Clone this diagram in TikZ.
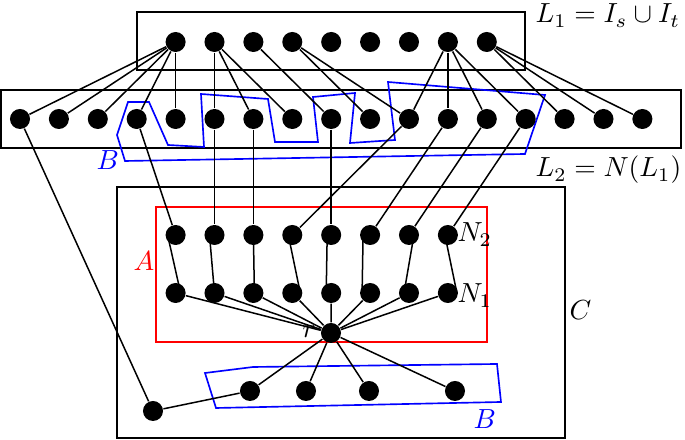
\documentclass[tikz,border=0pt]{standalone}
\usetikzlibrary{calc}
\begin{document}
\begin{tikzpicture}[x=0.3333pt,y=-0.3333pt,
  dot/.style={circle,fill=black,inner sep=0pt,minimum size=6.67pt},
  lbl/.style={inner sep=0pt,anchor=base west,scale=0.92},
  edge/.style={draw=black,line width=0.5pt},
  frame/.style={draw=black,line width=0.55pt},
  bluepoly/.style={draw=blue,line width=0.55pt},
  redbox/.style={draw=red,line width=0.55pt}]
\useasboundingbox (0,0) rectangle (685,440);
% frames
\draw[frame] (137,12) rectangle (525,70);
\draw[frame] (1,90) rectangle (681,148);
\draw[frame] (117,187) rectangle (565,438);
\draw[redbox] (156,207) rectangle (487,342);
% blue polygons
\draw[bluepoly] (128,102) -- (149,102) -- (168,145) -- (204,147) -- (201,94)
  -- (268,99) -- (275,142) -- (318,142) -- (313,97) -- (355,93) -- (350,143)
  -- (395,140) -- (388,82) -- (545,95) -- (525,154) -- (125,161) -- (117,135) -- cycle;
\draw[bluepoly] (205,373) -- (253,367) -- (497,364) -- (501,402) -- (216,408) -- cycle;
% nodes
\foreach \i in {4,...,12} \node[dot] (t\i) at ({20+38.9*\i},42) {};
\foreach \i in {0,...,16} \node[dot] (l\i) at ({20+38.9*\i},119) {};
\foreach \i in {4,...,11} {
  \node[dot] (a\i) at ({20+38.9*\i},235) {};
  \node[dot] (b\i) at ({20+38.9*\i},293) {};
}
\node[dot] (r) at (331,333) {};
\node[dot] (c1) at (250,391) {};
\node[dot] (c2) at (306,391) {};
\node[dot] (c3) at (369,391) {};
\node[dot] (c4) at (455,391) {};
\node[dot] (z) at (153,411) {};
% top to L2
\foreach \j in {0,...,4} \draw[edge] (t4) -- (l\j);
\foreach \j in {5,6,7} \draw[edge] (t5) -- (l\j);
\draw[edge] (t6) -- (l8);
\foreach \j in {9,10} \draw[edge] (t7) -- (l\j);
\foreach \j in {10,...,13} \draw[edge] (t11) -- (l\j);
\foreach \j in {14,15,16} \draw[edge] (t12) -- (l\j);
% L2 to N2
\draw[edge] (l3) -- (a4);
\draw[edge] (l5) -- (a5);
\draw[edge] (l6) -- (a6);
\draw[edge] (l10) -- (a7);
\draw[edge] (l8) -- (a8);
\draw[edge] (l11) -- (a9);
\draw[edge] (l12) -- (a10);
\draw[edge] (l13) -- (a11);
\draw[edge] (l0) -- (z);
% N2 to N1
\foreach \i/\p/\q in {4/-8/5,5/-5/0,6/0/1,7/-4/8,8/-4/-5,9/-7/-8,10/5/-5,11/-3/9}
  \draw[edge] ($(a\i)+(\p,0)$) -- ($(b\i)+(\q,0)$);
% N1 to r
\foreach \i in {4,...,11} \draw[edge] (b\i) -- (r);
% r to bottom
\foreach \j in {1,...,4} \draw[edge] (r) -- (c\j);
\draw[edge] (c1) -- (z);
% labels
\node[lbl] (lab1) at (535,23) {$L_1 = I_s \cup I_t$};
\node[lbl] (lab2) at (535,177) {$L_2 = N(L_1)$};
\node[lbl] (labn2) at (457,242) {$N_2$};
\node[lbl] (labn1) at (457,303) {$N_1$};
\node[lbl] (labr) at (302,338) {$r$};
\node[lbl,text=red] (laba) at (133,271) {$A$};
\node[lbl] (labc) at (569,320) {$C$};
\node[lbl,text=blue] (labb1) at (96,170) {$B$};
\node[lbl,text=blue] (labb2) at (473,429) {$B$};
\end{tikzpicture}
\end{document}
